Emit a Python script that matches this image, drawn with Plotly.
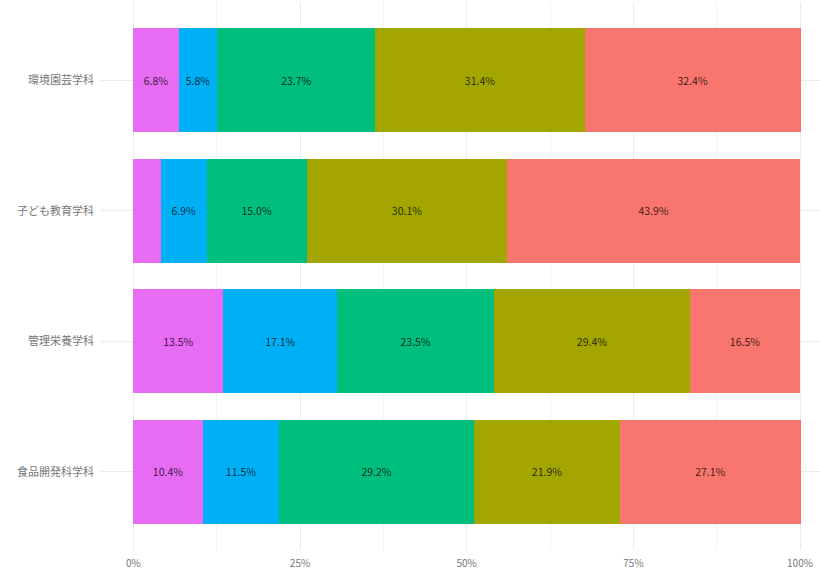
import plotly.graph_objects as go

# departments, bottom to top
departments = ["食品開発科学科", "管理栄養学科", "子ども教育学科", "環境園芸学科"]

# share of each response level (%), left to right in each bar
level5 = [10.4, 13.5, 4.1, 6.8]
level4 = [11.5, 17.1, 6.9, 5.8]
level3 = [29.2, 23.5, 15.0, 23.7]
level2 = [21.9, 29.4, 30.1, 31.4]
level1 = [27.1, 16.5, 43.9, 32.4]

series = [
    ("5", level5, "#E76BF3"),
    ("4", level4, "#00B0F6"),
    ("3", level3, "#00BF7D"),
    ("2", level2, "#A3A500"),
    ("1", level1, "#F8766D"),
]

tick_vals = [0, 25, 50, 75, 100]
tick_text = ["0%", "25%", "50%", "75%", "100%"]

fig = go.Figure()
for name, vals, color in series:
    labels = [f"{v:.1f}%" if v >= 5 else "" for v in vals]
    fig.add_trace(go.Bar(
        y=departments, x=vals, name=name, orientation="h",
        marker=dict(color=color, line=dict(width=0)),
        text=labels, textposition="inside", insidetextanchor="middle",
        textangle=0, constraintext="none",
        textfont=dict(size=10.5, color="rgba(0,0,0,0.78)"),
        hoverinfo="skip", showlegend=False,
    ))

fig.update_layout(
    barmode="stack", bargap=0.2,
    width=820, height=577,
    margin=dict(l=100, r=0, t=2, b=27),
    plot_bgcolor="white", paper_bgcolor="white",
    font=dict(family="Noto Sans CJK JP, Noto Sans, sans-serif", size=11, color="#4D4D4D"),
    uniformtext=dict(minsize=10, mode="show"),
)
fig.update_xaxes(
    range=[-5, 103], tickvals=tick_vals, ticktext=tick_text,
    showgrid=True, gridcolor="#EBEBEB", gridwidth=1,
    minor=dict(tick0=12.5, dtick=25, showgrid=True, gridcolor="#F3F3F3", gridwidth=0.6),
    zeroline=False, showline=False, ticks="", ticklabelstandoff=6,
    tickfont=dict(size=10, color="#777777"), automargin=False,
)
fig.update_yaxes(
    range=[-0.6, 3.6], categoryorder="array", categoryarray=departments,
    showgrid=True, gridcolor="#EBEBEB", gridwidth=1,
    zeroline=False, showline=False, ticks="", ticklabelstandoff=5,
    tickfont=dict(size=11, color="#777777"), automargin=False,
)

# drop the browser's default body margin so the figure sits at the page corner
fig.write_html("out.html", config={"displayModeBar": False},
               post_script="document.body.style.margin='0';")
